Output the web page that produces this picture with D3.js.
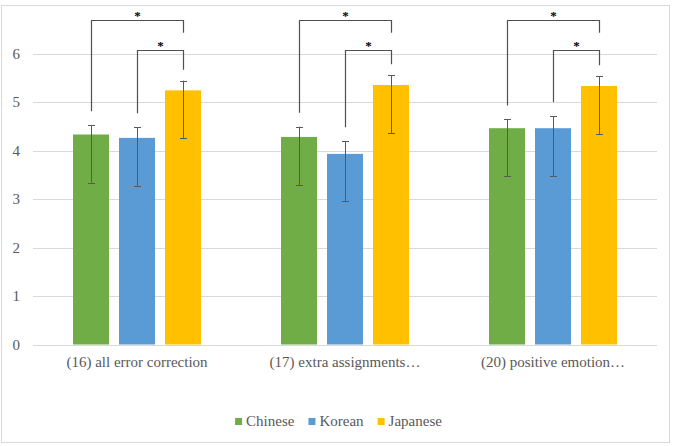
<!DOCTYPE html>
<html>
<head>
<meta charset="utf-8">
<script src="https://cdn.jsdelivr.net/npm/d3@7"></script>
<style>
  body { margin: 0; background: #fff; }
</style>
</head>
<body>
<script>
var categories = ["(16) all error correction", "(17) extra assignments\u2026", "(20) positive emotion\u2026"];
var seriesNames = ["Chinese", "Korean", "Japanese"];
var seriesColors = ["#70ad47", "#5b9bd5", "#ffc000"];

// means per series, one value per category
var chinese = [4.33, 4.28, 4.46];
var korean = [4.26, 3.93, 4.46];
var japanese = [5.24, 5.35, 5.33];

// error bar ends (upper / lower)
var chineseHi = [4.52, 4.49, 4.64];
var chineseLo = [3.34, 3.28, 3.47];
var koreanHi = [4.48, 4.19, 4.71];
var koreanLo = [3.26, 2.95, 3.47];
var japaneseHi = [5.44, 5.55, 5.53];
var japaneseLo = [4.25, 4.36, 4.33];

var yTicks = [0, 1, 2, 3, 4, 5, 6];

// significance brackets: [from series, to series, bracket level]
var sigPairs = [[0, 2, 6.70], [1, 2, 6.08]];

var values = [chinese, korean, japanese];
var hiVals = [chineseHi, koreanHi, japaneseHi];
var loVals = [chineseLo, koreanLo, japaneseLo];

var width = 675, height = 446;
var font = "'Liberation Serif', serif";

var svg = d3.select("body").append("svg")
    .attr("width", width)
    .attr("height", height);

svg.append("rect")
    .attr("x", 1.5).attr("y", 5.5)
    .attr("width", 668).attr("height", 437)
    .attr("fill", "#fff")
    .attr("stroke", "#d9d9d9");

var x0 = d3.scaleBand().domain(categories).range([33, 657]);
var x1 = d3.scaleBand().domain(seriesNames).range([0, x0.bandwidth()])
    .paddingInner(10 / 46).paddingOuter(0.87);
var y = d3.scaleLinear().domain([0, 6]).range([344.5, 53.5]);

// gridlines
svg.append("g").selectAll("line")
    .data(yTicks)
  .enter().append("line")
    .attr("x1", 33).attr("x2", 657)
    .attr("y1", function(d) { return Math.round(y(d)) + 0.5; })
    .attr("y2", function(d) { return Math.round(y(d)) + 0.5; })
    .attr("stroke", "#d9d9d9")
    .attr("stroke-width", 1);

svg.append("g").selectAll("text")
    .data(yTicks)
  .enter().append("text")
    .attr("x", 20)
    .attr("y", function(d) { return y(d) + 5; })
    .attr("text-anchor", "end")
    .style("font-family", font)
    .attr("font-size", 15)
    .attr("fill", "#595959")
    .text(function(d) { return d; });

// bars
var rows = [];
categories.forEach(function(c, ci) {
  seriesNames.forEach(function(s, si) {
    rows.push({cat: c, ci: ci, s: s, si: si,
      v: values[si][ci], hi: hiVals[si][ci], lo: loVals[si][ci]});
  });
});

svg.append("g").selectAll("rect")
    .data(rows)
  .enter().append("rect")
    .attr("x", function(d) { return x0(d.cat) + x1(d.s); })
    .attr("y", function(d) { return y(d.v); })
    .attr("width", x1.bandwidth())
    .attr("height", function(d) { return y(0) - y(d.v); })
    .attr("fill", function(d) { return seriesColors[d.si]; });

function cx(ci, si) {
  return x0(categories[ci]) + x1(seriesNames[si]) + x1.bandwidth() / 2;
}

// error bars
var eb = svg.append("g")
    .attr("stroke", "#595959")
    .attr("stroke-width", 1);
rows.forEach(function(d) {
  var xc = Math.round(cx(d.ci, d.si)) + 0.5;
  eb.append("line").attr("x1", xc).attr("x2", xc)
    .attr("y1", y(d.hi)).attr("y2", y(d.lo));
  [d.hi, d.lo].forEach(function(v) {
    eb.append("line").attr("x1", xc - 3.5).attr("x2", xc + 3.5)
      .attr("y1", Math.round(y(v)) + 0.5).attr("y2", Math.round(y(v)) + 0.5);
  });
});

// significance brackets
var br = svg.append("g");
categories.forEach(function(c, ci) {
  sigPairs.forEach(function(p, pi) {
    var xa = Math.round(cx(ci, p[0])) + 0.5,
        xb = Math.round(cx(ci, p[1])) + 0.5,
        top = Math.round(y(p[2])) + 0.5;
    var ya = y(hiVals[p[0]][ci]) - 14;
    var yb = pi === 0 ? y(6.43) : y(hiVals[p[1]][ci]) - 11;
    br.append("path")
      .attr("d", "M" + xa + "," + ya + "V" + top + "H" + xb + "V" + yb)
      .attr("fill", "none")
      .attr("stroke", "#505050")
      .attr("stroke-width", 1.2);
    br.append("text")
      .attr("x", (xa + xb) / 2)
      .attr("y", top - 1)
      .attr("text-anchor", "middle")
      .style("font-family", font)
      .attr("font-size", 13)
      .attr("font-weight", "bold")
      .attr("fill", "#000")
      .text("*");
  });
});

// category labels
svg.append("g").selectAll("text")
    .data(categories)
  .enter().append("text")
    .attr("x", function(d) { return x0(d) + x0.bandwidth() / 2; })
    .attr("y", 367)
    .attr("text-anchor", "middle")
    .style("font-family", font)
    .attr("font-size", 15)
    .attr("fill", "#595959")
    .text(function(d) { return d; });

// legend
var lg = svg.append("g");
var items = seriesNames.map(function(s, i) {
  var g = lg.append("g");
  g.append("rect").attr("x", 0).attr("y", 418).attr("width", 7).attr("height", 7)
    .attr("fill", seriesColors[i]);
  var t = g.append("text").attr("x", 11).attr("y", 426)
    .style("font-family", font)
    .attr("font-size", 15).attr("fill", "#595959").text(s);
  return {g: g, w: 11 + t.node().getComputedTextLength()};
});
var total = d3.sum(items, function(d) { return d.w; }) + 14 * (items.length - 1);
var pos = 338.5 - total / 2;
items.forEach(function(it) {
  it.g.attr("transform", "translate(" + pos + ",0)");
  pos += it.w + 14;
});
</script>
</body>
</html>
